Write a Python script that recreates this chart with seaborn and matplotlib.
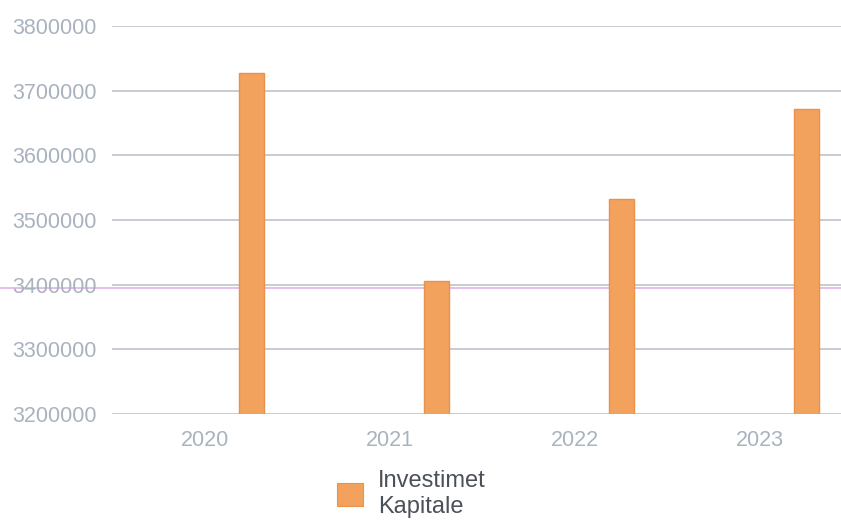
import matplotlib
matplotlib.use("Agg")
import matplotlib.pyplot as plt
from matplotlib.patches import Patch
import pandas as pd
import seaborn as sns

years = ["2020", "2021", "2022", "2023"]
values = [3728000, 3406000, 3532000, 3671000]
series_name = "Investimet Kapitale"
legend_label = "Investimet\nKapitale"
y_ticks = [3200000, 3300000, 3400000, 3500000, 3600000, 3700000, 3800000]

bar_color = "#F3A25E"
edge_color = "#E8924C"
tick_color = "#A9B3BF"
grid_color = "#BDC4CC"
legend_text_color = "#4B5158"

df = pd.DataFrame({"year": years, "value": values, "series": series_name})

sns.set_theme(style="white")
plt.rcParams["font.family"] = ["Liberation Sans", "DejaVu Sans"]

fig = plt.figure(figsize=(8.41, 5.21), dpi=100)
ax = fig.add_axes([112 / 841, 107 / 521, 740 / 841, 388 / 521])

sns.barplot(
    data=df, x="year", y="value", hue="series",
    hue_order=["_spacer", series_name],
    palette={"_spacer": "white", series_name: bar_color},
    order=years, width=1.016, gap=0.734, dodge=True, saturation=1,
    edgecolor=edge_color, linewidth=1, legend=False, ax=ax,
)

ax.set_ylim(3200000, 3800000)
ax.set_yticks(y_ticks)
ax.set_yticklabels([str(v) for v in y_ticks])
ax.set_xlim(-0.5, 3.5)
ax.set_xlabel("")
ax.set_ylabel("")
ax.set_axisbelow(True)
ax.yaxis.grid(True, color=grid_color, linewidth=1.2)
ax.xaxis.grid(False)
for s in ax.spines.values():
    s.set_visible(False)
ax.tick_params(axis="y", length=0, pad=11, labelsize=15.5, labelcolor=tick_color)
ax.tick_params(axis="x", length=0, pad=11.5, labelsize=15.5, labelcolor=tick_color)

# faint pink horizontal artifact line seen in the reference
ax.axhline(3395500, xmin=-0.16, xmax=1.0, color="#DDB3EA", linewidth=1.2,
           clip_on=False, zorder=0.5)

fig.legend(
    handles=[Patch(facecolor=bar_color, edgecolor=edge_color, linewidth=0.8)],
    labels=[legend_label],
    loc="center left", bbox_to_anchor=(337 / 841, 27 / 521),
    frameon=False, fontsize=17, labelcolor=legend_text_color,
    handlelength=1.1, handleheight=1.1, handletextpad=0.65,
    borderpad=0, borderaxespad=0,
)

fig.savefig("out.png", dpi=100, facecolor="white")
